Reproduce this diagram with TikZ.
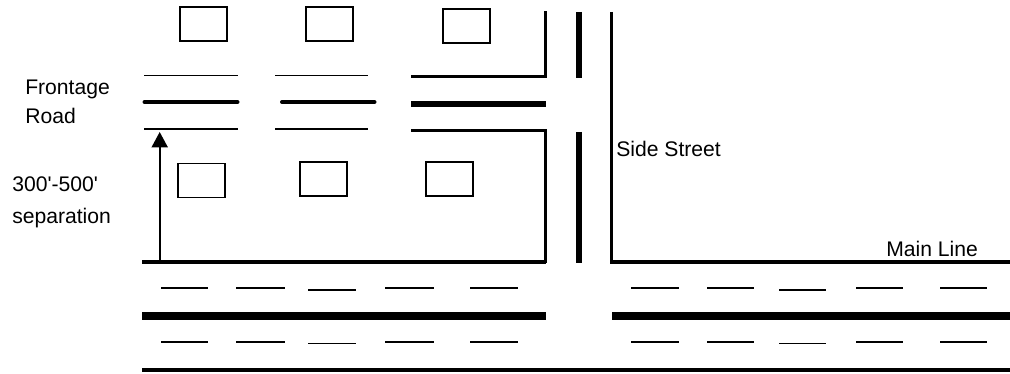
\documentclass[tikz,border=0pt]{standalone}
\usepackage{fontspec}
\newfontfamily\labelfont{Liberation Sans}
\usetikzlibrary{arrows.meta, positioning}

\begin{document}
\begin{tikzpicture}[
    x=0.75pt, y=-0.75pt,
    every node/.style={font=\labelfont\fontsize{15.85}{20}\selectfont, inner sep=0pt},
    house/.style={rectangle, draw=black, line width=1.2pt, minimum width=35pt, minimum height=25.5pt},
    caption/.style={anchor=base west, align=left},
    thinroad/.style={line width=1.2pt},
    medroad/.style={line width=3pt, line cap=round},
    curb/.style={line width=2.4pt},
    median/.style={line width=4.4pt},
    mainmedian/.style={line width=6pt},
    lanedash/.style={line width=1.3pt},
    sizearrow/.style={-{Triangle[length=11.5pt, width=12pt]}, line width=1.4pt}
]
\useasboundingbox (0,0) rectangle (1010,374);

% Houses north of the frontage road
\node[house] (northa) at (203.5,24) {};
\node[house] (northb) at (329.5,24) {};
\node[house] (northc) at (466.5,26) {};

% Houses south of the frontage road
\node[house] (southa) at (201.5,180.5) {};
\node[house] (southb) at (323.5,179) {};
\node[house] (southc) at (449.5,179) {};

% Frontage road - left pieces
\draw[thinroad] (144,75.5) -- (238,75.5);
\draw[medroad] (144.5,102) -- (237.5,102);
\draw[thinroad] (144,129) -- (238,129);
\draw[thinroad] (275,75.5) -- (368,75.5);
\draw[medroad] (282,102) -- (374.5,102);
\draw[thinroad] (275,129) -- (368,129);

% Frontage road meeting the side street
\draw[curb] (411,76.5) -- (545.7,76.5) -- (545.7,11);
\draw[median] (411,103.8) -- (546,103.8);
\draw[curb] (411,130.3) -- (545.7,130.3) -- (545.7,263);

% Side street
\draw[median] (579,12) -- (579,78);
\draw[median] (579,132) -- (579,263);
\draw[curb] (611.5,12) -- (611.5,262) -- (1010,262);

% Main line
\draw[curb] (142,262) -- (545.7,262);
\draw[mainmedian] (142,316) -- (546,316);
\draw[mainmedian] (612,316) -- (1010,316);
\draw[line width=2.6pt] (142,370) -- (1010,370);

% Lane dashes (the middle one of each row sits a little lower)
\foreach \rowy in {288,341.7} {
    \foreach \xa/\xb/\dy in {161/208/0, 236/285/0, 308/356/1.8, 385/434/0, 470/518/0,
                             631/679/0, 707/754/0, 779/826/1.8, 856/903/0, 940/987/0} {
        \draw[lanedash] (\xa,\rowy+\dy) -- (\xb,\rowy+\dy);
    }
}

% Separation arrow
\coordinate (mainedge) at (159.7,262);
\coordinate (frontedge) at (159.7,132);
\draw[sizearrow] (mainedge) -- (frontedge);

% Labels
\node[caption] (frontage) at (25,95) {Frontage};
\node[caption] (road) at (25,124) {Road};
\node[caption] (distance) at (12,191) {300'-500'};
\node[caption] (separation) at (12,223.5) {separation};
\node[caption] (sidestreet) at (616,157) {Side Street};
\node[caption] (mainline) at (886,256) {Main Line};

\end{tikzpicture}
\end{document}
